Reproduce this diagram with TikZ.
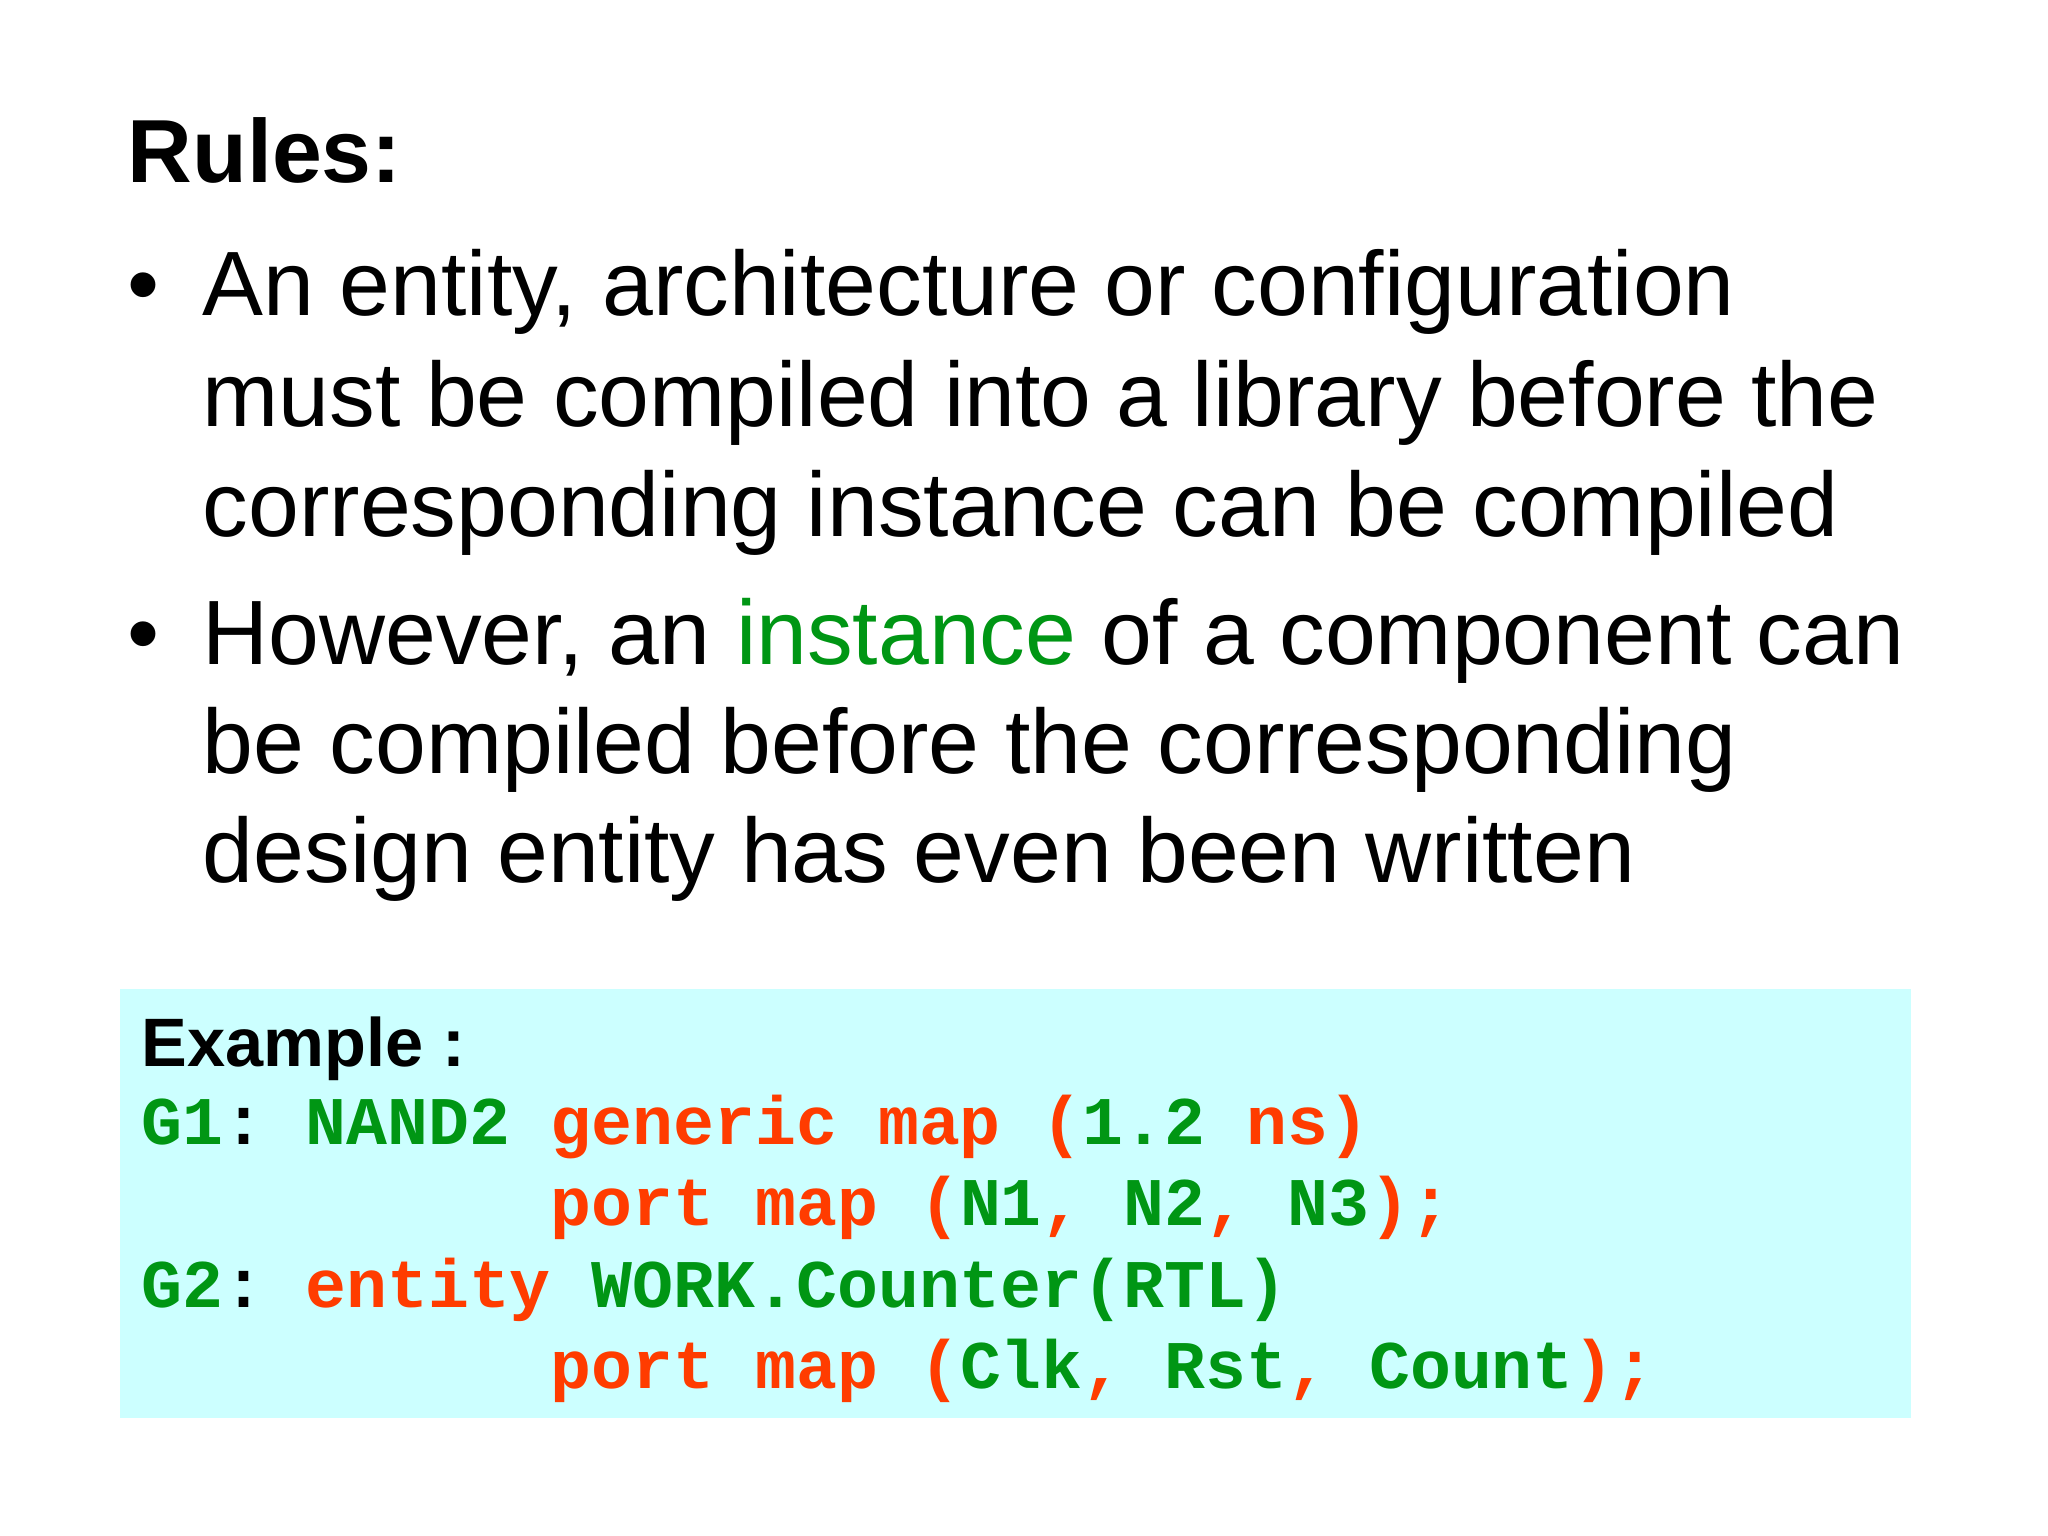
\documentclass[tikz,border=0pt]{standalone}
\usepackage{fontspec}
\setmainfont{Liberation Sans}
\setmonofont{Liberation Mono}
\definecolor{cg}{RGB}{0,150,20}
\definecolor{cr}{RGB}{255,60,0}
\definecolor{boxc}{RGB}{204,255,255}
\begin{document}
\begin{tikzpicture}[x=1cm,y=-1cm,
  txt/.style={anchor=base west,inner sep=0pt,font=\fontsize{26}{31}\selectfont},
  code/.style={anchor=base west,inner sep=0pt,font=\fontsize{19.4}{24}\selectfont\ttfamily\bfseries}]
\useasboundingbox[fill=white] (0,0) rectangle (20.48,15.36);
\fill[boxc] (1.20,9.89) rectangle (19.11,14.18);
\node[txt,font=\fontsize{25.5}{30}\selectfont\bfseries] (title) at (1.27,1.83) {Rules:};
\node[txt] (b1) at (1.27,3.16) {•};
\node[txt] (l1) at (2.02,3.16) {An entity, architecture or configuration};
\node[txt] (l2) at (2.02,4.27) {must be compiled into a library before the};
\node[txt] (l3) at (2.02,5.37) {corresponding instance can be compiled};
\node[txt] (b2) at (1.27,6.64) {•};
\node[txt] (l4) at (2.02,6.64) {However, an \textcolor{cg}{instance} of a component can};
\node[txt] (l5) at (2.02,7.73) {be compiled before the corresponding};
\node[txt] (l6) at (2.02,8.83) {design entity has even been written};
\node[txt,font=\fontsize{19.5}{24}\selectfont\bfseries] (ex) at (1.41,10.67) {Example :};
\node[code] (c1) at (1.41,11.44) {\textcolor{cg}{G1}: \textcolor{cg}{NAND2} \textcolor{cr}{generic map (}\textcolor{cg}{1.2} \textcolor{cr}{ns)}};
\node[code] (c2) at (1.41,12.25) {\phantom{G1: NAND2 }\textcolor{cr}{port map (}\textcolor{cg}{N1}\textcolor{cr}{,} \textcolor{cg}{N2}\textcolor{cr}{,} \textcolor{cg}{N3}\textcolor{cr}{);}};
\node[code] (c3) at (1.41,13.07) {\textcolor{cg}{G2}: \textcolor{cr}{entity} \textcolor{cg}{WORK.Counter(RTL)}};
\node[code] (c4) at (1.41,13.88) {\phantom{G1: NAND2 }\textcolor{cr}{port map (}\textcolor{cg}{Clk}\textcolor{cr}{,} \textcolor{cg}{Rst}\textcolor{cr}{,} \textcolor{cg}{Count}\textcolor{cr}{);}};
\end{tikzpicture}
\end{document}
